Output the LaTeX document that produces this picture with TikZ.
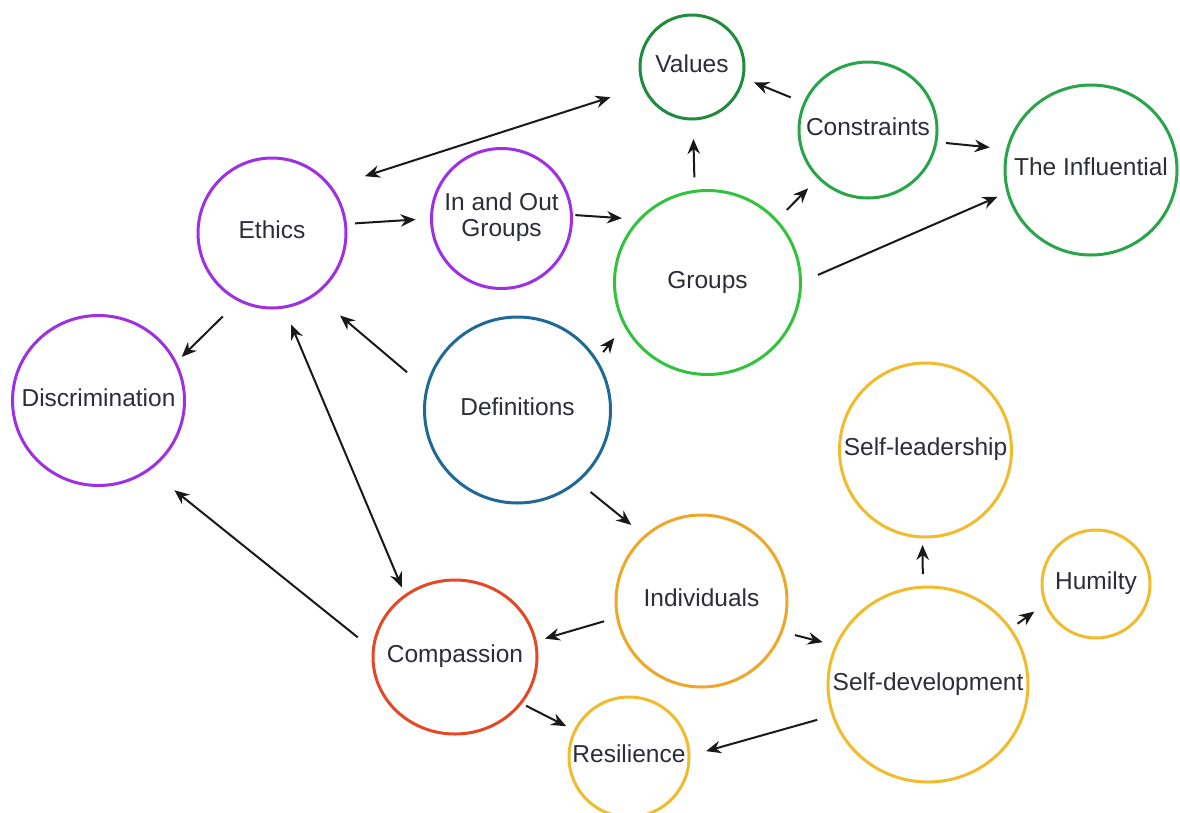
\documentclass[tikz,border=0pt]{standalone}
\usepackage{fontspec}
\setmainfont{Liberation Sans}
\usetikzlibrary{shapes.geometric,arrows.meta}
\definecolor{txt}{RGB}{45,45,55}
\definecolor{cpurple}{RGB}{158,48,228}
\definecolor{cgreenD}{RGB}{30,140,60}
\definecolor{cgreenM}{RGB}{40,165,75}
\definecolor{cgreenL}{RGB}{50,195,60}
\definecolor{cblue}{RGB}{30,105,150}
\definecolor{cyellow}{RGB}{240,188,45}
\definecolor{corange}{RGB}{238,168,40}
\definecolor{cred}{RGB}{228,72,38}
\newcommand\bubtext[1]{\makebox[0pt]{#1}}
\begin{document}
\begin{tikzpicture}[x=1pt,y=-1pt,
  bub/.style={ellipse, draw, line width=3pt, inner sep=0pt, outer sep=0pt, text=txt,
    font=\fontsize{24.5}{26}\selectfont, text height=17.5pt, text depth=6pt},
  tipst/.tip={Stealth[length=15pt,width=12.5pt,inset=5pt]},
  arr/.style={-tipst, line width=2pt, draw=black!90},
  darr/.style={tipst-tipst, line width=2pt, draw=black!90}]
\useasboundingbox (0,0) rectangle (1180,812);
\fill[white] (0,0) rectangle (1180,812);

\node[bub, draw=cgreenD, minimum width=104pt, minimum height=104pt] (values) at (692,67) {\bubtext{Values}};
\node[bub, draw=cgreenM, minimum width=138pt, minimum height=136pt] (constraints) at (868,130) {\bubtext{Constraints}};
\node[bub, draw=cgreenM, minimum width=172pt, minimum height=170pt] (influential) at (1091,170) {\bubtext{The Influential}};
\node[bub, draw=cpurple, minimum width=148pt, minimum height=150pt] (ethics) at (272,233) {\bubtext{Ethics}};
\node[bub, draw=cpurple, minimum width=140pt, minimum height=140pt] (inout) at (501.5,218.5) {\bubtext{\begin{tabular}{@{}c@{}}In and Out\\Groups\end{tabular}}};
\node[bub, draw=cgreenL, minimum width=186pt, minimum height=184pt] (groups) at (707.5,282.5) {\bubtext{Groups}};
\node[bub, draw=cpurple, minimum width=172pt, minimum height=170pt] (discrim) at (98.5,400.5) {\bubtext{Discrimination}};
\node[bub, draw=cblue, minimum width=186pt, minimum height=186pt] (defs) at (517.5,410) {\bubtext{Definitions}};
\node[bub, draw=cyellow, minimum width=172pt, minimum height=174pt] (selflead) at (925.5,450) {\bubtext{Self-leadership}};
\node[bub, draw=cyellow, minimum width=108pt, minimum height=108pt] (humilty) at (1096,584) {\bubtext{Humilty}};
\node[bub, draw=corange, minimum width=171pt, minimum height=172pt] (indiv) at (701.5,601) {\bubtext{Individuals}};
\node[bub, draw=cyellow, minimum width=200pt, minimum height=195pt] (selfdev) at (928,684.5) {\bubtext{Self-development}};
\node[bub, draw=cred, minimum width=164pt, minimum height=154pt] (compassion) at (455,657) {\bubtext{Compassion}};
\node[bub, draw=cyellow, minimum width=120pt, minimum height=120pt] (resilience) at (629,757) {\bubtext{Resilience}};

\draw[darr, shorten <=36pt, shorten >=35pt] (ethics.38) -- (values.202);
\draw[arr, shorten <=15pt, shorten >=12pt] (constraints.157) -- (values.348);
\draw[arr, shorten <=14pt, shorten >=20pt] (groups.98) -- (values.271);
\draw[arr, shorten <=15pt, shorten >=15pt] (groups.42) -- (constraints.224);
\draw[arr, shorten <=10pt, shorten >=18pt] (constraints.350) -- (influential.166);
\draw[arr, shorten <=19pt, shorten >=11.5pt] (groups.0) -- (influential.195);
\draw[arr, shorten <=9.6pt, shorten >=16pt] (ethics.7) -- (inout.180);
\draw[arr, shorten <=4pt, shorten >=18pt] (inout.3) -- (groups.137);
\draw[arr, shorten <=23pt, shorten >=8.6pt] (ethics.244) -- (discrim.26);
\draw[arr, shorten <=26pt, shorten >=33pt] (defs.167) -- (ethics.305);
\draw[arr, shorten <=11pt, shorten >=17pt] (defs.32) -- (groups.207);
\draw[darr, shorten <=19pt, shorten >=9pt] (ethics.279) -- (compassion.129);
\draw[arr, shorten <=20pt, shorten >=33pt] (compassion.175) -- (discrim.306);
\draw[arr, shorten <=17pt, shorten >=18pt] (defs.310) -- (indiv.131);
\draw[arr, shorten <=14pt, shorten >=10pt] (indiv.191) -- (compassion.11);
\draw[arr, shorten <=14pt, shorten >=14pt] (indiv.339) -- (selfdev.157);
\draw[arr, shorten <=13pt, shorten >=8pt] (selfdev.93) -- (selflead.268);
\draw[arr, shorten <=9pt, shorten >=14pt] (selfdev.34) -- (humilty.201);
\draw[arr, shorten <=6pt, shorten >=10pt] (compassion.325) -- (resilience.154);
\draw[arr, shorten <=16.5pt, shorten >=17.7pt] (selfdev.198) -- (resilience.1);
\end{tikzpicture}
\end{document}
